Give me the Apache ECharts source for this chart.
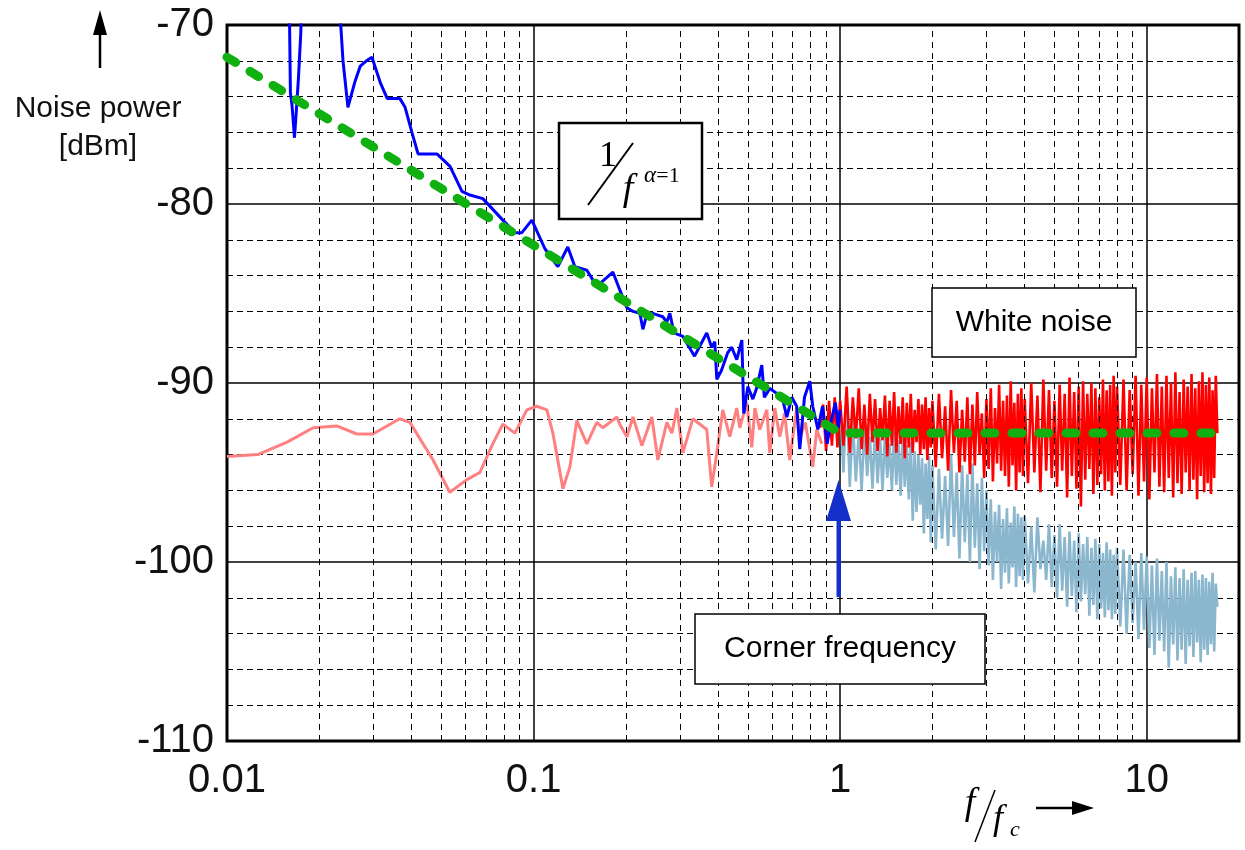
<!DOCTYPE html>
<html>
<head>
<meta charset="utf-8">
<script src="https://cdn.jsdelivr.net/npm/echarts@6/dist/echarts.min.js"></script>
<style>
html,body{margin:0;padding:0;background:#fff;}
#chart{width:1245px;height:850px;}
</style>
</head>
<body>
<div id="chart"></div>
<script>
// ---- tick labels ----
const xTickValues = [0.01, 0.1, 1, 10];
const xTickLabels = ['0.01', '0.1', '1', '10'];
const minorX = [0.02,0.03,0.04,0.05,0.06,0.07,0.08,0.09,
                0.2,0.3,0.4,0.5,0.6,0.7,0.8,0.9,
                2,3,4,5,6,7,8,9];

// ---- 1/f measured noise (blue) ----
const blueData = [[0.0159,-66],[0.0161,-73.8],[0.0163,-74.5],[0.0166,-76.3],[0.0168,-75.0],[0.0171,-73.0],[0.0174,-70.5],[0.0177,-66],[0.0201,-64],[0.0234,-69.5],[0.0239,-72.0],[0.0248,-74.6],[0.0261,-73.2],[0.0272,-72.3],[0.0285,-72.0],[0.0297,-71.8],[0.0316,-73.2],[0.0333,-74.1],[0.0366,-74.1],[0.0381,-74.6],[0.0401,-76.0],[0.0420,-77.2],[0.0484,-77.2],[0.0534,-77.9],[0.0584,-79.3],[0.0620,-79.5],[0.0683,-79.7],[0.0794,-80.9],[0.0869,-81.6],[0.0916,-81.6],[0.0987,-80.9],[0.1089,-82.5],[0.120,-83.5],[0.1293,-82.4],[0.1364,-83.5],[0.1492,-83.7],[0.1608,-84.6],[0.1814,-83.8],[0.1911,-84.8],[0.2015,-85.8],[0.2110,-86.0],[0.2222,-86.1],[0.2273,-87.0],[0.2330,-86.3],[0.2430,-86.1],[0.2640,-86.3],[0.2721,-86.6],[0.2783,-86.1],[0.2870,-87.2],[0.3070,-87.4],[0.3350,-88.5],[0.3470,-88.0],[0.3672,-87.2],[0.3810,-88.0],[0.3900,-87.7],[0.3960,-89.8],[0.4100,-89.3],[0.4300,-88.3],[0.4430,-88.0],[0.4600,-88.7],[0.4780,-87.6],[0.4850,-91.7],[0.5000,-90.2],[0.5190,-90.9],[0.5340,-90.3],[0.5552,-89.0],[0.5660,-90.8],[0.5900,-90.3],[0.6120,-90.5],[0.6470,-90.8],[0.6700,-91.9],[0.6955,-90.8],[0.7215,-91.3],[0.7384,-93.7],[0.7650,-90.8],[0.7962,-89.9],[0.8140,-91.3],[0.8460,-92.6],[0.8760,-91.3],[0.9070,-93.4],[0.9380,-92.0],[0.9650,-91.1],[0.9870,-92.5],[1.0000,-91.5]];

// ---- low-frequency measured floor (pink) ----
const pinkData = [[0.0100,-94.1],[0.0126,-94.0],[0.0157,-93.3],[0.0191,-92.5],[0.0228,-92.4],[0.0265,-92.85],[0.0299,-92.85],[0.0366,-92.0],[0.0395,-92.2],[0.0470,-94.3],[0.0533,-96.1],[0.0606,-95.4],[0.0668,-95.0],[0.0736,-93.4],[0.0794,-92.3],[0.0869,-92.8],[0.0951,-91.5],[0.1025,-91.3],[0.1105,-91.5],[0.1156,-92.8],[0.1247,-95.9],[0.1313,-94.7],[0.1384,-92.1],[0.1492,-93.4],[0.1608,-92.2],[0.1682,-92.5],[0.1870,-91.9],[0.1910,-92.3],[0.2015,-93.0],[0.2110,-91.9],[0.2256,-93.5],[0.2431,-91.9],[0.2543,-94.3],[0.2721,-92.2],[0.2826,-92.8],[0.2934,-91.4],[0.3069,-93.9],[0.3306,-92.0],[0.3672,-92.6],[0.3811,-95.8],[0.3961,-93.9],[0.4142,-91.5],[0.4365,-93.0],[0.4600,-91.4],[0.4706,-92.5],[0.4960,-91.1],[0.5150,-93.6],[0.5270,-91.4],[0.5470,-92.6],[0.5765,-91.5],[0.5895,-93.9],[0.6120,-91.4],[0.6355,-93.0],[0.6590,-91.7],[0.6850,-94.3],[0.7215,-91.4],[0.7384,-93.1],[0.7700,-92.2],[0.8140,-94.7],[0.8390,-92.6],[0.8710,-93.4]];

// ---- frequency bins of the high-frequency measurements ----
const fGrid = [
  0.86,0.88,0.90,0.92,0.94,0.96,0.98,1.00,
  1.025,1.05,1.075,1.1,1.125,1.15,1.175,1.2,1.225,1.25,1.275,1.3,1.325,1.35,1.375,1.4,1.425,1.45,1.475,1.5,
  1.525,1.55,1.575,1.6,1.625,1.65,1.675,1.7,1.725,1.75,1.775,1.8,1.825,1.85,1.875,1.9,1.925,1.95,1.975,2.0,
  2.05,2.1,2.15,2.2,2.25,2.3,2.35,2.4,2.45,2.5,2.55,2.6,2.65,2.7,2.75,2.8,2.85,2.9,2.95,3.0,
  3.05,3.1,3.15,3.2,3.25,3.3,3.35,3.4,3.45,3.5,3.55,3.6,3.65,3.7,3.75,3.8,3.85,3.9,3.95,4.0,
  4.1,4.2,4.3,4.4,4.5,4.6,4.7,4.8,4.9,5.0,5.1,5.2,5.3,5.4,5.5,5.6,5.7,5.8,5.9,6.0,
  6.1,6.2,6.3,6.4,6.5,6.6,6.7,6.8,6.9,7.0,7.1,7.2,7.3,7.4,7.5,7.6,7.7,7.8,7.9,8.0,
  8.2,8.4,8.6,8.8,9.0,9.2,9.4,9.6,9.8,10.0,10.2,10.4,10.6,10.8,11.0,11.2,11.4,11.6,11.8,12.0,
  12.2,12.4,12.6,12.8,13.0,13.2,13.4,13.6,13.8,14.0,14.2,14.4,14.6,14.8,15.0,15.2,15.4,15.6,15.8,16.0,
  16.2,16.4,16.6,16.8,17.0];

// ---- white noise (red), one value per fGrid bin ----
const redY = [
  -92.5,-91.2,-93.8,-91.0,-93.5,-90.8,-93.6,-91.0,
  -93.5,-90.2,-93.9,-90.8,-93.1,-90.3,-93.7,-91.2,-94.0,-90.6,
  -93.3,-90.9,-93.8,-91.4,-93.2,-90.7,-94.1,-91.0,-93.5,-90.5,
  -93.9,-91.3,-93.4,-90.8,-94.2,-91.1,-93.6,-90.6,-93.9,-91.5,
  -93.3,-90.9,-94.0,-91.2,-93.7,-90.8,-94.3,-91.4,-93.6,-91.0,
  -94.7,-90.6,-94.2,-91.3,-94.9,-90.4,-93.9,-91.0,-95.0,-91.5,
  -94.4,-90.8,-95.1,-91.2,-94.6,-90.5,-94.0,-91.7,-95.3,-90.9,
  -94.8,-90.3,-95.5,-91.4,-94.5,-90.1,-94.9,-91.0,-95.2,-90.7,
  -95.8,-89.9,-94.6,-91.1,-96.0,-90.6,-95.0,-90.3,-95.2,-90.9,
  -95.6,-90.0,-95.0,-90.7,-96.1,-89.8,-94.9,-90.4,-95.3,-91.0,
  -95.8,-90.1,-94.9,-90.6,-96.4,-89.7,-95.2,-90.5,-95.9,-90.2,
  -96.9,-89.9,-95.4,-90.6,-94.8,-90.0,-96.2,-90.3,-95.7,-90.8,
  -95.1,-89.8,-96.0,-90.4,-95.5,-90.1,-96.3,-89.6,-95.0,-90.2,
  -95.7,-89.8,-96.0,-90.4,-95.1,-89.6,-96.3,-90.1,-95.5,-89.7,
  -96.5,-90.3,-95.0,-89.5,-95.8,-90.2,-96.1,-89.6,-95.3,-90.0,
  -96.4,-89.4,-95.6,-90.5,-96.2,-89.8,-95.0,-90.2,-96.0,-89.5,
  -95.4,-90.3,-96.5,-89.9,-95.2,-89.4,-96.1,-90.1,-95.6,-89.7,
  -96.2,-90.4,-95.3,-89.6,-92.8];

// ---- filtered noise (light blue), one value per fGrid bin ----
const lightBlueY = [
  null,null,null,null,null,null,null,-91.0,
  -95.0,-90.6,-95.8,-92.0,-95.5,-92.8,-96.0,-92.5,-95.2,-93.0,
  -95.9,-92.6,-95.6,-93.1,-96.0,-92.9,-95.3,-93.4,-96.0,-92.7,
  -95.7,-93.2,-96.3,-93.0,-95.8,-93.5,-96.5,-93.3,-97.7,-93.8,
  -97.2,-94.0,-96.8,-94.2,-98.4,-94.5,-97.6,-94.1,-98.9,-94.6,
  -99.3,-94.8,-98.7,-95.2,-99.1,-94.0,-98.6,-95.0,-99.8,-94.6,
  -98.9,-95.1,-100.0,-94.5,-99.2,-95.6,-100.4,-95.3,-99.4,-96.0,
  -100.2,-96.5,-101.0,-97.2,-100.0,-96.8,-101.5,-97.6,-100.6,-97.0,
  -101.2,-97.8,-100.3,-96.9,-101.4,-97.3,-100.8,-97.5,-101.0,-97.4,
  -101.2,-98.0,-101.7,-97.5,-100.4,-98.8,-101.0,-97.9,-101.4,-98.5,
  -102.0,-97.9,-101.6,-98.6,-102.5,-98.3,-101.9,-98.8,-102.8,-98.4,
  -102.2,-99.0,-101.8,-98.6,-103.0,-99.2,-102.4,-98.7,-103.2,-99.0,
  -102.6,-99.5,-103.1,-98.9,-102.7,-99.3,-103.2,-99.6,-102.9,-99.2,
  -103.6,-99.3,-104.0,-99.6,-103.4,-100.0,-104.3,-99.5,-103.8,-99.7,
  -104.8,-100.2,-105.2,-99.8,-104.4,-100.5,-105.0,-100.0,-105.9,-100.8,
  -104.6,-100.3,-105.5,-100.9,-104.9,-100.4,-105.7,-101.0,-104.7,-100.6,
  -105.3,-100.5,-104.5,-101.0,-105.6,-100.7,-104.9,-100.9,-105.2,-101.1,
  -104.6,-100.6,-105.0,-101.2,-102.5];

// ---- 1/f model line (green dashed) ----
const modelData = [[0.01,-71.8],[1.0,-92.8],[18,-92.8]];

const FONT = "'Liberation Sans', Arial, sans-serif";
const SERIF = "'Liberation Serif', 'Times New Roman', serif";

const redData = fGrid.map((f, i) => [f, redY[i]]).filter(p => p[1] != null);
const lightBlueData = fGrid.map((f, i) => [f, lightBlueY[i]]).filter(p => p[1] != null);

const chart = echarts.init(document.getElementById('chart'), null, {renderer: 'canvas'});

const arrowBlue = '#1530c8';

const option = {
  animation: false,
  backgroundColor: '#fff',
  grid: {left: 227, top: 25, right: 6, bottom: 109, show: true, borderColor: '#000', borderWidth: 3, backgroundColor: 'transparent'},
  xAxis: {
    type: 'log', logBase: 10, min: 0.01, max: 20,
    axisLine: {show: false}, axisTick: {show: false},
    splitLine: {show: true, lineStyle: {color: '#000', width: 1.5}},
    axisLabel: {
      fontSize: 40, color: '#111', fontFamily: FONT, margin: 20,
      showMaxLabel: false,
      formatter: function (v) {
        for (let i = 0; i < xTickValues.length; i++) {
          if (Math.abs(Math.log10(v) - Math.log10(xTickValues[i])) < 1e-6) return xTickLabels[i];
        }
        return '';
      }
    }
  },
  yAxis: {
    type: 'value', min: -110, max: -70, interval: 10,
    axisLine: {show: false}, axisTick: {show: false},
    splitLine: {show: true, lineStyle: {color: '#000', width: 1.5}},
    minorTick: {show: false, splitNumber: 5},
    minorSplitLine: {show: true, lineStyle: {color: '#000', width: 1, type: [6, 4]}},
    axisLabel: {fontSize: 40, color: '#111', fontFamily: FONT, margin: 13}
  },
  series: [
    {
      name: 'minor grid', type: 'line', data: [], z: 1, silent: true,
      markLine: {
        silent: true, symbol: ['none', 'none'], animation: false,
        label: {show: false},
        lineStyle: {color: '#000', width: 1, type: [6, 5]},
        data: minorX.map(v => ({xAxis: v}))
      }
    },
    {name: 'pink', type: 'line', data: pinkData, showSymbol: false, z: 2,
     lineStyle: {color: '#ff8080', width: 3}},
    {name: 'lightblue', type: 'line', data: lightBlueData, showSymbol: false, z: 3,
     lineStyle: {color: '#8ab6ce', width: 2.6}},
    {name: 'red', type: 'line', data: redData, showSymbol: false, z: 4,
     lineStyle: {color: '#ff0000', width: 2.6}},
    {name: 'blue', type: 'line', data: blueData, showSymbol: false, z: 5, clip: true,
     lineStyle: {color: '#0000ff', width: 3}},
    {name: 'model', type: 'line', data: modelData, showSymbol: false, z: 6,
     lineStyle: {color: '#10b010', width: 9, type: [10, 17], cap: 'round'}}
  ],
  graphic: [
    // y-axis title
    {type: 'text', z: 100, style: {text: 'Noise power', x: 98, y: 109, align: 'center', verticalAlign: 'middle', fontSize: 30, fontFamily: FONT, fill: '#111'}},
    {type: 'text', z: 100, style: {text: '[dBm]', x: 98, y: 147, align: 'center', verticalAlign: 'middle', fontSize: 30, fontFamily: FONT, fill: '#111'}},
    {type: 'line', z: 100, shape: {x1: 100, y1: 68, x2: 100, y2: 30}, style: {stroke: '#000', lineWidth: 2.5}},
    {type: 'polygon', z: 100, shape: {points: [[100, 10], [93, 35], [107, 35]]}, style: {fill: '#000'}},
    // 1/f box
    {type: 'rect', z: 100, shape: {x: 559, y: 123, width: 143, height: 96}, style: {fill: '#fff', stroke: '#000', lineWidth: 2.5}},
    {type: 'text', z: 101, style: {text: '1', x: 608, y: 157, align: 'center', verticalAlign: 'middle', fontSize: 36, fontFamily: SERIF, fill: '#000'}},
    {type: 'line', z: 101, shape: {x1: 588, y1: 205, x2: 633, y2: 143}, style: {stroke: '#000', lineWidth: 2}},
    {type: 'text', z: 101, style: {text: 'f', x: 628, y: 190, align: 'center', verticalAlign: 'middle', fontSize: 38, fontStyle: 'italic', fontFamily: SERIF, fill: '#000'}},
    {type: 'text', z: 101, style: {text: 'α', x: 650, y: 176, align: 'center', verticalAlign: 'middle', fontSize: 23, fontStyle: 'italic', fontFamily: SERIF, fill: '#000'}},
    {type: 'text', z: 101, style: {text: '=1', x: 668, y: 176, align: 'center', verticalAlign: 'middle', fontSize: 22, fontFamily: SERIF, fill: '#000'}},
    // White noise box
    {type: 'rect', z: 100, shape: {x: 932, y: 288, width: 204, height: 69}, style: {fill: '#fff', stroke: '#000', lineWidth: 1.5}},
    {type: 'text', z: 101, style: {text: 'White noise', x: 1034, y: 323, align: 'center', verticalAlign: 'middle', fontSize: 30, fontFamily: FONT, fill: '#000'}},
    // Corner frequency box
    {type: 'rect', z: 100, shape: {x: 695, y: 614, width: 290, height: 70}, style: {fill: '#fff', stroke: '#000', lineWidth: 1.5}},
    {type: 'text', z: 101, style: {text: 'Corner frequency', x: 840, y: 649, align: 'center', verticalAlign: 'middle', fontSize: 30, fontFamily: FONT, fill: '#000'}},
    // corner arrow
    {type: 'rect', z: 100, shape: {x: 836.5, y: 515, width: 4.5, height: 82}, style: {fill: arrowBlue}},
    {type: 'polygon', z: 100, shape: {points: [[838.5, 480], [826, 521], [851, 521]]}, style: {fill: arrowBlue}},
    // x-axis title f/fc
    {type: 'text', z: 100, style: {text: 'f', x: 970, y: 804, align: 'center', verticalAlign: 'middle', fontSize: 38, fontStyle: 'italic', fontFamily: SERIF, fill: '#000'}},
    {type: 'line', z: 100, shape: {x1: 975, y1: 842, x2: 995, y2: 790}, style: {stroke: '#000', lineWidth: 1.5}},
    {type: 'text', z: 100, style: {text: 'f', x: 998, y: 820, align: 'center', verticalAlign: 'middle', fontSize: 36, fontStyle: 'italic', fontFamily: SERIF, fill: '#000'}},
    {type: 'text', z: 100, style: {text: 'c', x: 1015, y: 830, align: 'center', verticalAlign: 'middle', fontSize: 22, fontStyle: 'italic', fontFamily: SERIF, fill: '#000'}},
    {type: 'line', z: 100, shape: {x1: 1036, y1: 808, x2: 1075, y2: 808}, style: {stroke: '#000', lineWidth: 2.5}},
    {type: 'polygon', z: 100, shape: {points: [[1094, 808], [1072, 801], [1072, 815]]}, style: {fill: '#000'}}
  ]
};

chart.setOption(option);
</script>
</body>
</html>
